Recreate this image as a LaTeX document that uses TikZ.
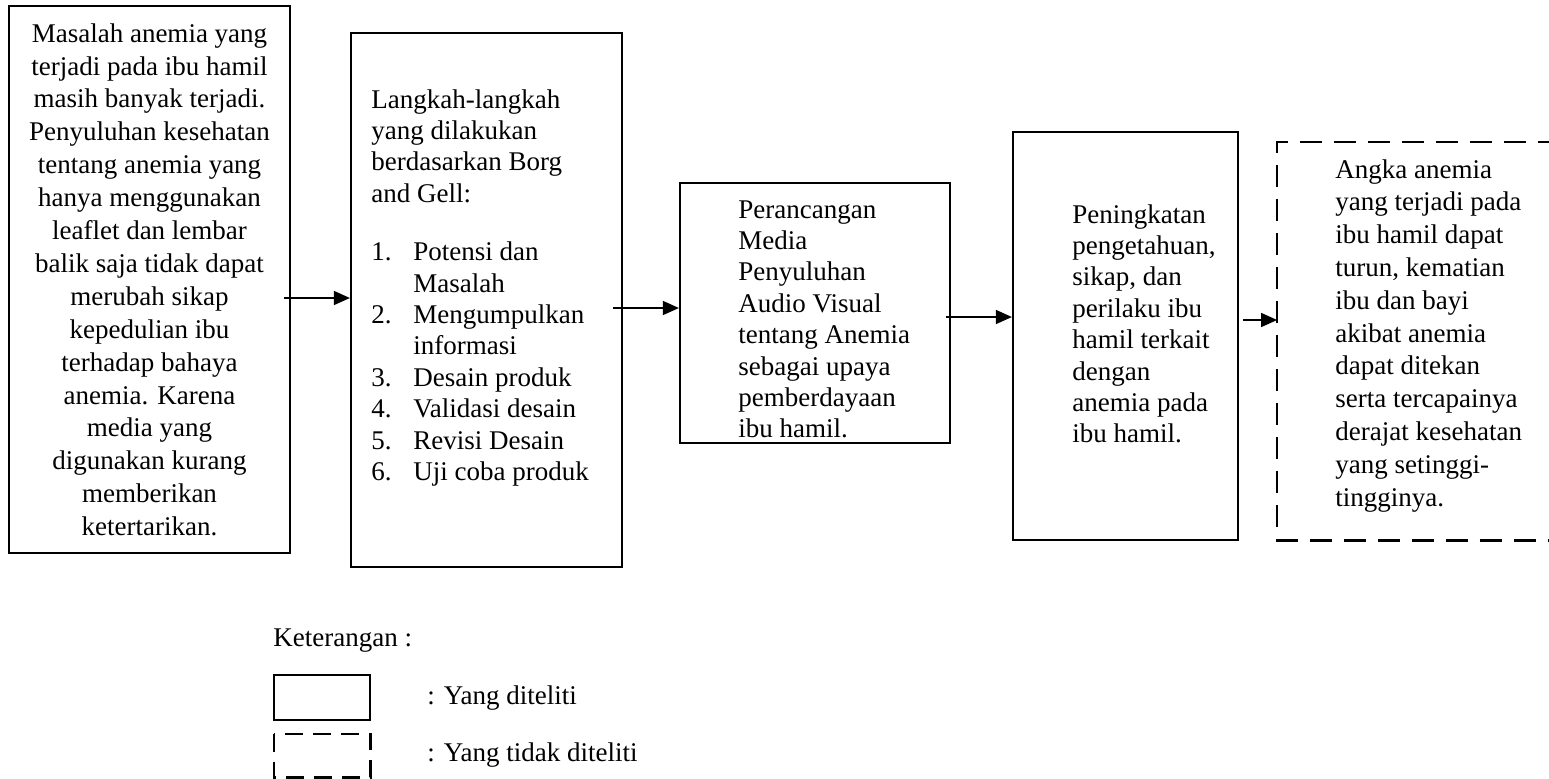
\documentclass[tikz,border=0pt]{standalone}
\usepackage{fontspec}
\setmainfont{Liberation Serif}
\usetikzlibrary{arrows.meta}
\begin{document}
\begin{tikzpicture}[x=0.5pt,y=-0.5pt,
  box/.style={draw, line width=1.1pt, rectangle, inner sep=0pt},
  ghost/.style={rectangle, inner sep=0pt},
  txt/.style={font=\fontsize{13.5}{15.7}\selectfont, inner sep=0pt, align=left, anchor=north west},
  ctxt/.style={font=\fontsize{13.5}{16.45}\selectfont, inner sep=0pt, align=center, anchor=north},
  ltxt/.style={font=\fontsize{13.5}{15.7}\selectfont, inner sep=0pt, anchor=west},
  arr/.style={-{Triangle[length=8pt,width=7pt]}, line width=0.75pt},
  dsh/.style={line width=1.1pt, dash pattern=on 11pt off 6pt}]
\useasboundingbox (0,0) rectangle (1549,778);

% main boxes
\node[box, minimum width=140.5pt, minimum height=273.5pt] (b1) at (149.5,279.5) {};
\node[box, minimum width=135.5pt, minimum height=267pt] (b2) at (486.5,300) {};
\node[box, minimum width=135pt, minimum height=130pt] (b3) at (815,313) {};
\node[box, minimum width=112.5pt, minimum height=204pt] (b4) at (1125.5,336) {};
\node[ghost, minimum width=141pt, minimum height=199pt] (b5) at (1418.5,341) {};
\draw[dsh] (b5.north east) -- (b5.north west) -- (b5.south west) -- (b5.south east);

% texts
\node[ctxt] (t1) at (149.5,23) {Masalah anemia yang\\terjadi pada ibu hamil\\masih banyak terjadi.\\Penyuluhan kesehatan\\tentang anemia yang\\hanya menggunakan\\leaflet dan lembar\\balik saja tidak dapat\\merubah sikap\\kepedulian ibu\\terhadap bahaya\\anemia. Karena\\media yang\\digunakan kurang\\memberikan\\ketertarikan.};
\node[txt] (t2) at (371,89) {Langkah-langkah\\yang dilakukan\\berdasarkan Borg\\and Gell:\\[13.5pt]
\makebox[21pt][l]{1.}Potensi dan\\\hspace*{21pt}Masalah\\
\makebox[21pt][l]{2.}Mengumpulkan\\\hspace*{21pt}informasi\\
\makebox[21pt][l]{3.}Desain produk\\
\makebox[21pt][l]{4.}Validasi desain\\
\makebox[21pt][l]{5.}Revisi Desain\\
\makebox[21pt][l]{6.}Uji coba produk};
\node[txt] (t3) at (738,200) {Perancangan\\Media\\Penyuluhan\\Audio Visual\\tentang Anemia\\sebagai upaya\\pemberdayaan\\ibu hamil.};
\node[txt] (t4) at (1072,204) {Peningkatan\\pengetahuan,\\sikap, dan\\perilaku ibu\\hamil terkait\\dengan\\anemia pada\\ibu hamil.};
\node[txt, font=\fontsize{13.5}{16.4}\selectfont] (t5) at (1335,159) {Angka anemia\\yang terjadi pada\\ibu hamil dapat\\turun, kematian\\ibu dan bayi\\akibat anemia\\dapat ditekan\\serta tercapainya\\derajat kesehatan\\yang setinggi-\\tingginya.};

% connectors
\coordinate (s1) at (284,298);
\coordinate (s2) at (613,308);
\coordinate (s3) at (946,317);
\coordinate (s4) at (1243,320);
\draw[arr] (s1) -- (s1 -| b2.west);
\draw[arr] (s2) -- (s2 -| b3.west);
\draw[arr] (s3) -- (s3 -| b4.west);
\draw[arr] (s4) -- (s4 -| b5.west);

% legend
\node[ltxt] (k) at (273,641) {Keterangan :};
\node[box, minimum width=48pt, minimum height=22.5pt] (l1) at (322,697.5) {};
\node[ghost, minimum width=48pt, minimum height=21.5pt] (l2) at (322,755.5) {};
\draw[line width=1.1pt, dash pattern=on 9pt off 5pt] (l2.north west) rectangle (l2.south east);
\node[ltxt] (lt1) at (427,698) {: Yang diteliti};
\node[ltxt] (lt2) at (427,755) {: Yang tidak diteliti};
\end{tikzpicture}
\end{document}
